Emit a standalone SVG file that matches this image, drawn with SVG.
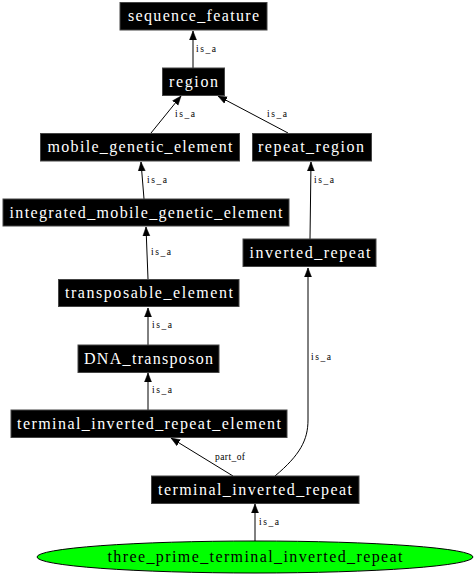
<svg xmlns="http://www.w3.org/2000/svg" width="476" height="576" viewBox="0 0 476 576">
<style>
.n rect{fill:#000;stroke:#444;stroke-width:1}
.n text{font-family:"Liberation Serif","Times New Roman",serif;font-size:16px;fill:#fff;text-anchor:middle}
.e path{fill:none;stroke:#000;stroke-width:1}
.e text{font-family:"Liberation Serif","Times New Roman",serif;font-size:9.5px;fill:#000}
#n11 text{fill:#000}
</style>
<defs>
<marker id="ah" markerWidth="10" markerHeight="10" refX="9" refY="5" orient="auto" markerUnits="userSpaceOnUse">
<path d="M0,1.5 L9,5 L0,8.5 Z" fill="#000" stroke="#000" stroke-width="0.5"/>
</marker>
</defs>
<rect width="476" height="576" fill="#fff"/>
<g id="edges" class="e">
<path d="M193,68 L193,31" marker-end="url(#ah)"/>
<text x="196" y="52" textLength="20" lengthAdjust="spacing">is_a</text>
<path d="M151,133 L181,96" marker-end="url(#ah)"/>
<text x="175" y="117" textLength="20" lengthAdjust="spacing">is_a</text>
<path d="M288,133 L218,96" marker-end="url(#ah)"/>
<text x="267" y="117" textLength="20" lengthAdjust="spacing">is_a</text>
<path d="M144,199 L141,162" marker-end="url(#ah)"/>
<text x="147" y="183" textLength="20" lengthAdjust="spacing">is_a</text>
<path d="M310,239 L311,162" marker-end="url(#ah)"/>
<text x="314" y="183" textLength="20" lengthAdjust="spacing">is_a</text>
<path d="M148,279 L146,227" marker-end="url(#ah)"/>
<text x="151" y="255" textLength="20" lengthAdjust="spacing">is_a</text>
<path d="M148,345 L148,308" marker-end="url(#ah)"/>
<text x="152" y="328" textLength="20" lengthAdjust="spacing">is_a</text>
<path d="M148,410 L148,373" marker-end="url(#ah)"/>
<text x="152" y="393" textLength="20" lengthAdjust="spacing">is_a</text>
<path d="M233,476 L171,438" marker-end="url(#ah)"/>
<text x="215" y="460" textLength="30" lengthAdjust="spacing">part_of</text>
<path d="M275,476 C300,455 308,440 308,420 L308,268" marker-end="url(#ah)"/>
<text x="311" y="360" textLength="20" lengthAdjust="spacing">is_a</text>
<path d="M255,541 L255,504" marker-end="url(#ah)"/>
<text x="259" y="525" textLength="20" lengthAdjust="spacing">is_a</text>
</g>
<g id="n1" class="n"><rect x="120" y="2.5" width="147" height="27.5"/><text x="193.5" y="21" textLength="131" lengthAdjust="spacing">sequence_feature</text></g>
<g id="n2" class="n"><rect x="162.5" y="68" width="62" height="27.5"/><text x="193.5" y="86.5" textLength="49" lengthAdjust="spacing">region</text></g>
<g id="n3" class="n"><rect x="40.5" y="133.5" width="199" height="27.5"/><text x="140" y="152" textLength="185" lengthAdjust="spacing">mobile_genetic_element</text></g>
<g id="n4" class="n"><rect x="252.5" y="133.5" width="119" height="27.5"/><text x="311" y="152" textLength="106" lengthAdjust="spacing">repeat_region</text></g>
<g id="n5" class="n"><rect x="3" y="199" width="286" height="27"/><text x="146" y="217.5" textLength="273" lengthAdjust="spacing">integrated_mobile_genetic_element</text></g>
<g id="n6" class="n"><rect x="243" y="239" width="133" height="27.5"/><text x="310" y="257.5" textLength="121" lengthAdjust="spacing">inverted_repeat</text></g>
<g id="n7" class="n"><rect x="58.5" y="279.5" width="180.5" height="27"/><text x="149" y="298" textLength="168" lengthAdjust="spacing">transposable_element</text></g>
<g id="n8" class="n"><rect x="78" y="345" width="141" height="27.5"/><text x="148.5" y="363.5" textLength="129" lengthAdjust="spacing">DNA_transposon</text></g>
<g id="n9" class="n"><rect x="11" y="410" width="276" height="27.5"/><text x="149" y="428.5" textLength="264" lengthAdjust="spacing">terminal_inverted_repeat_element</text></g>
<g id="n10" class="n"><rect x="151.5" y="476" width="207.5" height="27.5"/><text x="255" y="494.5" textLength="194" lengthAdjust="spacing">terminal_inverted_repeat</text></g>
<g id="n11" class="n"><ellipse cx="255" cy="557" rx="218" ry="16" fill="#00ff00" stroke="#000" stroke-width="1"/><text x="255" y="562" textLength="295" lengthAdjust="spacing">three_prime_terminal_inverted_repeat</text></g>
</svg>
